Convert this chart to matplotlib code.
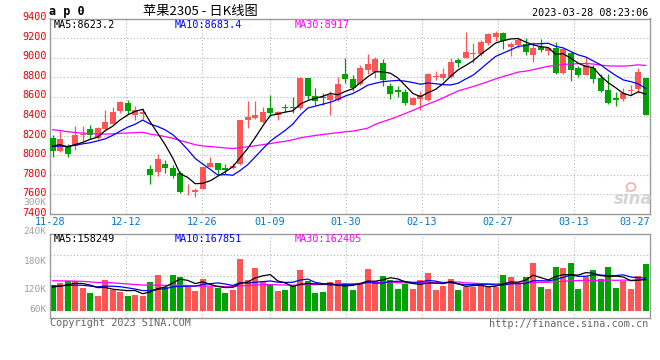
import numpy as np
import pandas as pd
import matplotlib
matplotlib.use("Agg")
import matplotlib.pyplot as plt
from matplotlib.patches import Ellipse

# ---------------- data ----------------
dates = ["11-28", "12-12", "12-26", "01-09", "01-30", "02-13", "02-27", "03-13", "03-27"]
date_idx = [0, 10, 20, 29, 39, 49, 59, 69, 79]

open_ = [8177, 8048, 8092, 8099, 8204, 8269, 8180, 8269, 8320, 8449,
         8534, 8408, 8422, 7861, 7831, 7915, 7871, 7814, 7620, 7627,
         7651, 7881, 7922, 7865, 7865, 7912, 8364, 8381, 8340, 8483,
         8415, 8493, 8490, 8483, 8789, 8602, 8595, 8568, 8568, 8829,
         8778, 8727, 8873, 8850, 8941, 8704, 8670, 8646, 8517, 8578,
         8568, 8799, 8789, 8806, 8972, 8999, 9033, 9033, 9145, 9206,
         9247, 9111, 9128, 9135, 9026, 9111, 9067, 9094, 8839, 9043,
         8897, 8823, 8890, 8795, 8670, 8585, 8575, 8659, 8680, 8789]
high = [8211, 8245, 8116, 8303, 8303, 8313, 8285, 8462, 8490, 8551,
        8568, 8500, 8483, 7905, 8014, 7956, 7905, 7837, 7701, 7667,
        7885, 7980, 7925, 7912, 7922, 8365, 8558, 8558, 8490, 8619,
        8456, 8524, 8595, 8802, 8795, 8687, 8636, 8659, 8806, 8992,
        8822, 8924, 9033, 9009, 8982, 8738, 8714, 8676, 8592, 8653,
        8839, 8867, 8890, 8999, 8992, 9257, 9145, 9183, 9247, 9274,
        9264, 9162, 9196, 9196, 9155, 9189, 9111, 9155, 9101, 9060,
        8918, 9003, 8924, 8829, 8829, 8646, 8687, 8721, 8890, 8795]
low = [7980, 8031, 7980, 8058, 8150, 8170, 8165, 8245, 8320, 8432,
       8422, 8364, 8371, 7702, 7783, 7820, 7763, 7610, 7589, 7572,
       7651, 7875, 7803, 7810, 7860, 7905, 8279, 8371, 8330, 8398,
       8364, 8439, 8432, 8476, 8568, 8510, 8510, 8415, 8560, 8738,
       8659, 8720, 8829, 8789, 8704, 8578, 8592, 8517, 8510, 8466,
       8558, 8772, 8772, 8795, 8904, 8995, 8941, 9020, 9128, 9169,
       9087, 9020, 9094, 9026, 8958, 9060, 9026, 8829, 8835, 8761,
       8799, 8820, 8738, 8646, 8524, 8507, 8558, 8612, 8636, 8408]
close = [8048, 8167, 8014, 8211, 8218, 8204, 8280, 8340, 8442, 8544,
         8456, 8466, 8442, 7803, 7966, 7865, 7793, 7620, 7627, 7640,
         7885, 7922, 7854, 7854, 7895, 8360, 8388, 8415, 8442, 8432,
         8439, 8483, 8479, 8789, 8609, 8558, 8585, 8619, 8727, 8782,
         8693, 8890, 8931, 8982, 8772, 8625, 8646, 8534, 8585, 8612,
         8829, 8809, 8829, 8958, 8945, 9053, 9047, 9162, 9237, 9247,
         9169, 9138, 9183, 9060, 9101, 9077, 9094, 8839, 9087, 8873,
         8823, 8924, 8782, 8653, 8534, 8561, 8636, 8670, 8850, 8415]
volume = [130900, 142800, 153000, 149600, 117300, 91800, 76500, 158100, 105400, 96900,
          74800, 79900, 76500, 147900, 181900, 119000, 181900, 171700, 119000, 100300,
          161500, 119000, 117300, 91800, 105400, 263500, 156400, 217600, 147900, 136000,
          100300, 105400, 125800, 207400, 153000, 91800, 95200, 147900, 156400, 141100,
          105400, 141100, 212500, 151300, 176800, 158100, 110500, 136000, 110500, 156400,
          192100, 105400, 125800, 161500, 105400, 122400, 122400, 141100, 119000, 119000,
          181900, 171700, 136000, 171700, 244800, 120700, 110500, 222700, 219300, 244800,
          110500, 173400, 207400, 161500, 222700, 117300, 151300, 110500, 176800, 238000]
# estimated sessions before 11-28 (only feed the moving averages at the left edge)
prior_close = [8420, 8380, 8450, 8400, 8360, 8410, 8370, 8390, 8350, 8366,
               8360, 8330, 8350, 8300, 8320, 8280, 8310, 8270, 8290, 8254,
               8120, 8060, 8090, 8070, 8085, 8100, 8130, 8090, 8107]
prior_volume = [170000, 160000, 175000, 155000, 180000, 165000, 150000, 172000, 168000, 160000,
                175000, 158000, 170000, 162000, 166000, 180000, 155000, 168000, 164000, 177000,
                140000, 125000, 135000, 128000, 132000, 115000, 120000, 112000, 122000]

price_ticks = [7400, 7600, 7800, 8000, 8200, 8400, 8600, 8800, 9000, 9200, 9400]
vol_tick_labels = ["300K", "240K", "180K", "120K", "60K"]
ma_price_text = ["MA5:8623.2", "MA10:8683.4", "MA30:8917"]
ma_vol_text = ["MA5:158249", "MA10:167851", "MA30:162405"]

# ---------------- layout helpers ----------------
W, H = 660, 360
fig = plt.figure(figsize=(6.6, 3.6), dpi=100)
fig.patch.set_facecolor("white")


def fx(px):
    return px / W


def fy(py):
    return 1 - py / H


L, R = 50, 649.5
PT, PB = 18.5, 213.9
VT, VB = 234.3, 317.7
C0, STEP = 52.5, 7.51   # candle centre pixel and spacing

RED = "#ff5555"
GREEN = "#00a200"
GRID = "#b4b4b4"
SPINE = "#9a9a9a"
MONO = "DejaVu Sans Mono"
FS = 7.3

axp = fig.add_axes([fx(L), fy(PB), (R - L) / W, (PB - PT) / H])
axv = fig.add_axes([fx(L), fy(VB), (R - L) / W, (VB - VT) / H])
xlim = ((L - C0) / STEP, (R - C0) / STEP)

o = np.array(open_, float)
hi = np.array(high, float)
lo = np.array(low, float)
c = np.array(close, float)
v = np.array(volume, float)
n = len(c)
x = np.arange(n)
col = np.where(c >= o, RED, GREEN)

# grid x positions (sina grid uses a slightly different spacing)
grid_px = [L + i * (R - L) / 79.0 for i in date_idx]
grid_x = [(gp - C0) / STEP for gp in grid_px]

for ax in (axp, axv):
    ax.set_xlim(*xlim)
    ax.set_xticks([])
    ax.set_yticks([])
    for s in ax.spines.values():
        s.set_color(SPINE)
        s.set_linewidth(1.0)
    for gx, idx in zip(grid_x, date_idx):
        if idx < 79:
            ax.axvline(gx, color=GRID, lw=0.8, ls=(0, (1, 2)), zorder=0)

# ---------------- price panel ----------------
axp.set_ylim(7400, 9400)
for pv in price_ticks[1:-1]:
    axp.axhline(pv, color=GRID, lw=0.8, ls=(0, (1, 2)), zorder=0)

axp.vlines(x, lo, hi, colors=col, lw=0.9, zorder=2)
body_b = np.minimum(o, c)
body_h = np.maximum(np.abs(c - o), 9)
axp.bar(x, body_h, bottom=body_b, width=0.8, color=col, linewidth=0, zorder=3)

allc = pd.Series(prior_close + close, dtype=float)
k0 = len(prior_close)
for win, mc in ((30, "#ff00ff"), (10, "#0000ff"), (5, "#000000")):
    ma = allc.rolling(win).mean().values[k0:]
    axp.plot(x, ma, color=mc, lw=0.9, zorder=4)

# ---------------- volume panel ----------------
base_px = 310.7
kv = 5100.0
axv.set_ylim(-(VB - base_px) * kv, (base_px - VT) * kv)
y0, y1 = axv.get_ylim()
for f in (0.25, 0.5, 0.75):
    axv.axhline(y0 + f * (y1 - y0), color=GRID, lw=0.8, ls=(0, (1, 2)), zorder=0)
axv.bar(x, v, width=0.8, color=col, linewidth=0, zorder=2)
allv = pd.Series(prior_volume + volume, dtype=float)
kv0 = len(prior_volume)
for win, mc in ((30, "#ff00ff"), (10, "#0000ff"), (5, "#000000")):
    ma = allv.rolling(win).mean().values[kv0:]
    axv.plot(x, ma, color=mc, lw=0.9, zorder=4)

# ---------------- texts ----------------
for pv in price_ticks:
    py = PB - (pv - 7400) / 2000 * (PB - PT) - 1.2
    fig.text(fx(46.8), fy(py), str(pv), ha="right", va="center",
             color="#e80000", family=MONO, size=FS)

for lab, py in zip(vol_tick_labels, [202.6, 231, 261, 290, 310]):
    fig.text(fx(46.8), fy(py), lab, ha="right", va="center",
             color="#a0a0a0", family=MONO, size=6.8)

for lab, gp, idx in zip(dates, grid_px, date_idx):
    if idx == 79:
        fig.text(fx(R), fy(221.7), lab, ha="right", va="center",
                 color="#0078d0", family=MONO, size=FS)
    else:
        fig.text(fx(gp), fy(221.7), lab, ha="center", va="center",
                 color="#0078d0", family=MONO, size=FS)

for txt, px, mc in zip(ma_price_text, [54, 175, 295], ["#000000", "#0000ff", "#ff00ff"]):
    fig.text(fx(px), fy(24.5), txt, ha="left", va="center", color=mc, family=MONO, size=FS)
for txt, px, mc in zip(ma_vol_text, [54, 175, 295], ["#000000", "#0000ff", "#ff00ff"]):
    fig.text(fx(px), fy(238.8), txt, ha="left", va="center", color=mc, family=MONO, size=FS)

fig.text(fx(49), fy(11), "a p 0", ha="left", va="center", color="#000000",
         family=MONO, weight="bold", size=8.5)
fig.text(fx(200), fy(11), "苹果2305 - 日K线图", ha="center", va="center", color="#000000",
         family=["Noto Sans CJK SC", "DejaVu Sans"], size=9.5)
fig.text(fx(648), fy(12.5), "2023-03-28 08:23:06", ha="right", va="center",
         color="#000000", family=MONO, size=FS)
fig.text(fx(50), fy(323.5), "Copyright 2023 SINA.COM", ha="left", va="center",
         color="#666666", family=MONO, size=FS)
fig.text(fx(648), fy(324), "http://finance.sina.com.cn", ha="right", va="center",
         color="#666666", family=MONO, size=FS)

# sina watermark
fig.text(fx(633), fy(199), "sina", ha="center", va="center", color="#d4d4d4",
         style="italic", weight="bold", size=12, family="DejaVu Sans")
fig.patches.append(Ellipse((fx(631), fy(187)), 9 / W, 8 / H, transform=fig.transFigure,
                           facecolor="none", edgecolor="#f2b0b0", lw=1.2))

fig.savefig("out.png", dpi=100, facecolor="white")
